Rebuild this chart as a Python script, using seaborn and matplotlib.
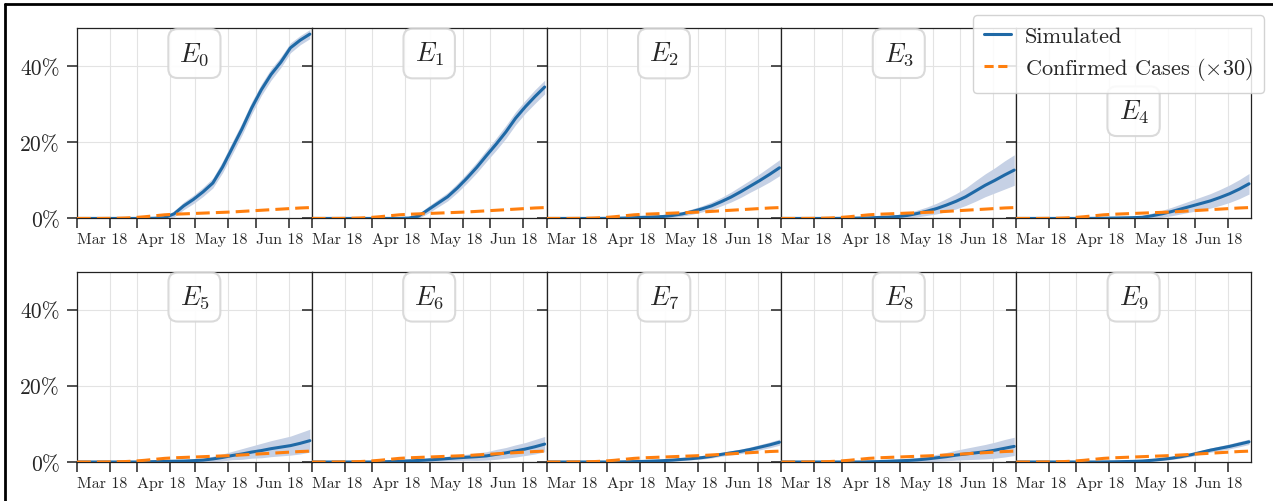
import numpy as np
import pandas as pd
import matplotlib
matplotlib.use("Agg")
import matplotlib.pyplot as plt
import seaborn as sns
from matplotlib.lines import Line2D

# ---------------- data (percent of population) ----------------
days = [0, 5, 10, 15, 20, 25, 30, 35, 40, 45, 50, 55, 60,
        65, 70, 75, 80, 85, 90, 95, 100, 105, 110, 115, 120]
start_date = "2020-03-18"

confirmed_x30 = [0, 0, 0, 0.02, 0.05, 0.12, 0.25, 0.45, 0.7, 0.95, 1.1, 1.2, 1.3,
                 1.4, 1.5, 1.6, 1.7, 1.85, 2.0, 2.15, 2.3, 2.45, 2.6, 2.75, 2.85]

sim_E0 = [0, 0, 0, 0, 0, 0, 0, 0, 0.05, 0.2, 1.2, 3.3, 5.0,
          7.0, 9.3, 13.5, 18.5, 23.5, 29.0, 33.8, 37.8, 41.0, 44.8, 46.8, 48.4]
sim_E1 = [0, 0, 0, 0, 0, 0, 0, 0, 0, 0, 0.1, 0.6, 2.3,
          4.0, 5.7, 8.0, 10.6, 13.4, 16.5, 19.5, 22.7, 26.3, 29.3, 32.0, 34.5]
sim_E2 = [0, 0, 0, 0, 0, 0, 0.02, 0.05, 0.1, 0.2, 0.3, 0.4, 0.5,
          0.8, 1.2, 1.8, 2.5, 3.3, 4.4, 5.6, 7.0, 8.5, 10.0, 11.6, 13.3]
sim_E3 = [0, 0, 0, 0, 0, 0, 0.02, 0.05, 0.1, 0.15, 0.25, 0.35, 0.5,
          0.8, 1.3, 1.9, 2.6, 3.5, 4.5, 5.7, 7.2, 8.7, 10.0, 11.4, 12.7]
sim_E4 = [0, 0, 0, 0, 0, 0, 0, 0, 0.02, 0.05, 0.1, 0.15, 0.2,
          0.3, 0.7, 1.2, 1.8, 2.5, 3.2, 3.9, 4.6, 5.5, 6.5, 7.7, 9.1]
sim_E5 = [0, 0, 0, 0, 0, 0, 0, 0.05, 0.1, 0.15, 0.2, 0.25, 0.35,
          0.5, 0.8, 1.2, 1.7, 2.1, 2.6, 3.0, 3.5, 3.9, 4.3, 4.9, 5.6]
sim_E6 = [0, 0, 0, 0, 0, 0, 0, 0.05, 0.1, 0.2, 0.3, 0.4, 0.55,
          0.7, 0.9, 1.1, 1.25, 1.4, 1.6, 2.0, 2.4, 2.9, 3.4, 4.0, 4.7]
sim_E7 = [0, 0, 0, 0, 0, 0, 0, 0, 0.05, 0.1, 0.15, 0.25, 0.35,
          0.5, 0.7, 0.9, 1.15, 1.5, 2.0, 2.4, 2.8, 3.3, 3.9, 4.5, 5.2]
sim_E8 = [0, 0, 0, 0, 0, 0, 0, 0, 0, 0.05, 0.1, 0.2, 0.3,
          0.4, 0.55, 0.8, 1.1, 1.4, 1.8, 2.1, 2.4, 2.7, 3.1, 3.6, 4.1]
sim_E9 = [0, 0, 0, 0, 0, 0, 0, 0, 0, 0.02, 0.05, 0.1, 0.15,
          0.25, 0.45, 0.7, 1.0, 1.4, 1.9, 2.5, 3.1, 3.6, 4.1, 4.7, 5.3]

# half-width of the shaded band around each simulated curve
band_E0 = [0, 0, 0, 0, 0, 0, 0, 0, 0.1, 0.3, 0.8, 1.0, 1.1,
           1.2, 1.3, 1.5, 1.6, 1.6, 1.6, 1.5, 1.5, 1.4, 1.3, 1.2, 1.2]
band_E1 = [0, 0, 0, 0, 0, 0, 0, 0, 0, 0.1, 0.3, 0.6, 0.9,
           1.0, 1.1, 1.2, 1.3, 1.4, 1.5, 1.6, 1.7, 1.7, 1.7, 1.8, 1.8]
band_E2 = [0, 0, 0, 0, 0, 0, 0, 0.05, 0.1, 0.15, 0.2, 0.3, 0.4,
           0.5, 0.6, 0.7, 0.8, 1.0, 1.1, 1.3, 1.5, 1.6, 1.8, 2.0, 2.1]
band_E3 = [0, 0, 0, 0, 0, 0, 0, 0.05, 0.1, 0.2, 0.3, 0.4, 0.5,
           0.7, 0.9, 1.1, 1.4, 1.7, 2.0, 2.3, 2.7, 3.0, 3.3, 3.7, 4.0]
band_E4 = [0, 0, 0, 0, 0, 0, 0, 0.05, 0.1, 0.15, 0.2, 0.3, 0.4,
           0.5, 0.7, 0.9, 1.1, 1.3, 1.5, 1.7, 1.9, 2.1, 2.3, 2.5, 2.7]
band_E5 = [0, 0, 0, 0, 0, 0, 0, 0.05, 0.1, 0.15, 0.2, 0.3, 0.4,
           0.5, 0.7, 0.9, 1.1, 1.4, 1.6, 1.9, 2.1, 2.3, 2.5, 2.8, 3.0]
band_E6 = [0, 0, 0, 0, 0, 0, 0, 0.05, 0.1, 0.15, 0.2, 0.3, 0.4,
           0.5, 0.6, 0.7, 0.8, 1.0, 1.1, 1.3, 1.4, 1.6, 1.7, 1.9, 2.0]
band_E7 = [0, 0, 0, 0, 0, 0, 0, 0, 0.05, 0.1, 0.1, 0.15, 0.2,
           0.25, 0.3, 0.35, 0.4, 0.45, 0.5, 0.55, 0.6, 0.65, 0.7, 0.75, 0.8]
band_E8 = [0, 0, 0, 0, 0, 0, 0, 0, 0.05, 0.1, 0.15, 0.25, 0.35,
           0.45, 0.6, 0.75, 0.9, 1.1, 1.3, 1.5, 1.7, 1.9, 2.1, 2.3, 2.4]
band_E9 = [0, 0, 0, 0, 0, 0, 0, 0, 0.05, 0.05, 0.1, 0.1, 0.15,
           0.2, 0.25, 0.3, 0.35, 0.4, 0.45, 0.5, 0.55, 0.6, 0.65, 0.7, 0.7]

sims = [sim_E0, sim_E1, sim_E2, sim_E3, sim_E4, sim_E5, sim_E6, sim_E7, sim_E8, sim_E9]
bands = [band_E0, band_E1, band_E2, band_E3, band_E4, band_E5, band_E6, band_E7, band_E8, band_E9]
panel_titles = [rf"$E_{i}$" for i in range(10)]

tick_dates = ["2020-03-18", "2020-04-04", "2020-04-18", "2020-05-05",
              "2020-05-18", "2020-06-04", "2020-06-18", "2020-07-05"]
tick_labels = ["Mar 18", "", "Apr 18", "", "May 18", "", "Jun 18", ""]
y_ticks = [0, 20, 40]
y_labels = ["0%", "20%", "40%"]
legend_labels = ["Simulated", r"Confirmed Cases ($\times$30)"]

# ---------------- style ----------------
sns.set_theme(style="whitegrid")
plt.rcParams.update({
    "font.family": ["cmr10", "DejaVu Serif"],
    "mathtext.fontset": "cm",
    "axes.formatter.use_mathtext": True,
    "axes.edgecolor": "#222222",
    "axes.linewidth": 0.9,
    "grid.color": "#e3e3e3",
    "grid.linewidth": 0.8,
})

BLUE = "#1f69a6"
BAND = "#c6d1e5"
ORANGE = "#ff7f0e"

dates = pd.Timestamp(start_date) + pd.to_timedelta(days, unit="D")
tdates = pd.to_datetime(tick_dates)

fig, axes = plt.subplots(2, 5, figsize=(12.73, 5.02), dpi=100, sharey=True)
fig.subplots_adjust(left=0.0605, right=0.9827, top=0.9422, bottom=0.0777,
                    wspace=0, hspace=0.279)

for i, ax in enumerate(axes.flat):
    sim = np.array(sims[i])
    band = np.array(bands[i])
    df = pd.DataFrame({"date": dates, "sim": sim, "conf": confirmed_x30})
    ax.fill_between(dates, sim - band, sim + band, color=BAND, lw=0, zorder=1)
    sns.lineplot(data=df, x="date", y="sim", ax=ax, color=BLUE, lw=2.2, zorder=3)
    sns.lineplot(data=df, x="date", y="conf", ax=ax, color=ORANGE, lw=2.2, zorder=4)
    ax.lines[-1].set_dashes((4.5, 2))
    ax.set_xlim(pd.Timestamp(start_date), pd.Timestamp(start_date) + pd.Timedelta(days=121))
    ax.set_ylim(0, 50)
    ax.set_xlabel("")
    ax.set_ylabel("")
    ax.set_xticks(tdates)
    ax.set_xticklabels(tick_labels, fontsize=11.5)
    for lbl in ax.get_xticklabels():
        lbl.set_ha("left")
    ax.set_yticks(y_ticks)
    ax.set_yticklabels(y_labels, fontsize=15.5)
    ax.tick_params(axis="x", direction="out", length=7, width=1.1, color="#222222",
                   bottom=True, pad=3)
    ax.tick_params(axis="y", direction="out", length=7.5, width=1.1, color="#222222",
                   left=True, pad=5)
    ax.grid(True, which="major")
    for s in ax.spines.values():
        s.set_visible(True)
        s.set_color("#222222")
        s.set_linewidth(0.9)
    ty = 0.563 if i == 4 else 0.866   # E4 label sits below the legend
    ax.text(0.5, ty, panel_titles[i], transform=ax.transAxes, ha="center",
            va="center", fontsize=19, zorder=6,
            bbox=dict(boxstyle="round,pad=0.42,rounding_size=0.35", fc="white",
                      ec="#d6d6d6", lw=1.5, alpha=0.9))

handles = [Line2D([], [], color=BLUE, lw=2.2),
           Line2D([], [], color=ORANGE, lw=2.2, dashes=(3, 1.5))]
leg = fig.legend(handles, legend_labels, loc="upper right", bbox_to_anchor=(0.993, 0.968),
                 fontsize=16, handlelength=1.2, handletextpad=0.65, borderpad=0.5,
                 labelspacing=0.42, framealpha=0.85, edgecolor="#cccccc", fancybox=True,
                 borderaxespad=0)
leg.set_zorder(10)

# partial figure frame (left and top edges)
fig.add_artist(Line2D([0.0039, 0.0039], [0, 0.99], transform=fig.transFigure,
                      color="black", lw=2))
fig.add_artist(Line2D([0.0039, 1.0], [0.99, 0.99], transform=fig.transFigure,
                      color="black", lw=2))

fig.savefig("out.png", dpi=100)
